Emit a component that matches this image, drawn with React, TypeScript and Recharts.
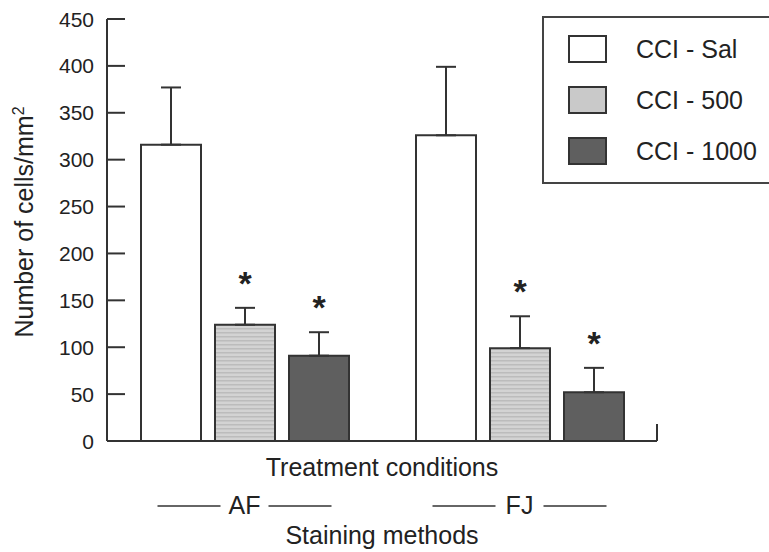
import React from 'react';
import { BarChart, Bar, XAxis, YAxis, ErrorBar, Legend, LabelList, ReferenceLine, Label } from 'recharts';

const methods = ['AF', 'FJ'];
const seriesNames = ['CCI - Sal', 'CCI - 500', 'CCI - 1000'];
const salValues = [316, 326];
const salErrors = [61, 73];
const dose500Values = [124, 99];
const dose500Errors = [18, 34];
const dose1000Values = [91, 52];
const dose1000Errors = [25, 26];
const significant500 = [true, true];
const significant1000 = [true, true];
const yTicks = [0, 50, 100, 150, 200, 250, 300, 350, 400, 450];
const legendSwatches = ['#ffffff', '#c9c9c9', '#5f5f5f'];

const data = methods.map((m, i) => ({
  method: m,
  sal: salValues[i],
  salErr: [0, salErrors[i]],
  d500: dose500Values[i],
  d500Err: [0, dose500Errors[i]],
  d1000: dose1000Values[i],
  d1000Err: [0, dose1000Errors[i]],
}));

const boundaries = methods.map((_, i) => i + 1);

const FONT = '"Liberation Sans", Arial, Helvetica, sans-serif';
const INK = '#222';
const LINE = '#333';

const YTick = (props: any) => {
  const { x, y, payload } = props;
  return (
    <g>
      <text x={x} y={y} dy="0.36em" textAnchor="end" fontSize={21} fill={INK} fontFamily={FONT}>
        {payload.value}
      </text>
      <line x1={x + 13} x2={x + 31} y1={y} y2={y} stroke={LINE} strokeWidth={2} />
    </g>
  );
};

const MethodTick = (props: any) => {
  const { x, y, payload } = props;
  return (
    <g>
      <line x1={x - 87} x2={x - 24} y1={y + 65} y2={y + 65} stroke={LINE} strokeWidth={1.5} />
      <text x={x} y={y + 73} textAnchor="middle" fontSize={25} fill={INK} fontFamily={FONT}>
        {payload.value}
      </text>
      <line x1={x + 24} x2={x + 87} y1={y + 65} y2={y + 65} stroke={LINE} strokeWidth={1.5} />
    </g>
  );
};

const YLabel = (props: any) => {
  const vb = props.viewBox || { x: 0, y: 19, width: 107, height: 422 };
  const cx = vb.x + 33;
  const cy = vb.y + vb.height / 2 - 8;
  return (
    <text
      x={cx}
      y={cy}
      transform={`rotate(-90, ${cx}, ${cy})`}
      textAnchor="middle"
      fontSize={25}
      fill={INK}
      fontFamily={FONT}
    >
      Number of cells/mm
      <tspan fontSize={16} dy={-9}>2</tspan>
    </text>
  );
};

const makeStar = (errors: number[], sig: boolean[]) => (props: any) => {
  const { x, y, width, height, value, index } = props;
  if (!sig[index] || !value) return null;
  const pxPerUnit = Number(height) / Number(value);
  const errTop = Number(y) - errors[index] * pxPerUnit;
  return (
    <text
      x={Number(x) + Number(width) / 2}
      y={errTop - 31 + 18}
      textAnchor="middle"
      fontSize={34}
      fontWeight="bold"
      fill={INK}
      fontFamily={FONT}
    >
      *
    </text>
  );
};

const renderLegend = () => (
  <div
    style={{
      width: 227,
      height: 168,
      boxSizing: 'border-box',
      borderTop: '2px solid #444',
      borderLeft: '2px solid #444',
      borderBottom: '2px solid #444',
      background: '#fff',
      position: 'relative',
      fontFamily: FONT,
    }}
  >
    {seriesNames.map((name, i) => (
      <div
        key={name}
        style={{ position: 'absolute', left: 24, top: 17 + i * 51, display: 'flex', alignItems: 'center', height: 28 }}
      >
        <div
          style={{
            width: 39,
            height: 28,
            boxSizing: 'border-box',
            border: '2px solid #333',
            background: legendSwatches[i],
          }}
        />
        <span style={{ marginLeft: 29, fontSize: 25, color: INK, whiteSpace: 'nowrap', lineHeight: '28px' }}>{name}</span>
      </div>
    ))}
  </div>
);

export default function App() {
  return (
    <div style={{ position: 'absolute', left: 0, top: 0, width: 769, height: 552, background: '#fff' }}>
      <BarChart
        width={769}
        height={552}
        data={data}
        margin={{ top: 19, right: 112, bottom: 0, left: 0 }}
        barCategoryGap={34}
        barGap={14}
        style={{ fontFamily: FONT }}
      >
        <defs>
          <pattern id="stripes500" width="6" height="4" patternUnits="userSpaceOnUse">
            <rect width="6" height="4" fill="#d3d3d3" />
            <rect y="0" width="6" height="1.5" fill="#bcbcbc" />
          </pattern>
        </defs>
        <XAxis
          dataKey="method"
          type="category"
          axisLine={{ stroke: LINE, strokeWidth: 2 }}
          tickLine={false}
          tickSize={0}
          tickMargin={0}
          height={111}
          interval={0}
          tick={<MethodTick />}
        >
          <Label value="Treatment conditions" position="insideTop" offset={17} fontSize={25} fill={INK} />
          <Label value="Staining methods" position="insideBottom" offset={8} fontSize={25} fill={INK} />
        </XAxis>
        <XAxis xAxisId="bounds" type="number" domain={[0, methods.length]} hide />
        <YAxis
          type="number"
          domain={[0, 450]}
          ticks={yTicks}
          interval={0}
          width={107}
          axisLine={{ stroke: LINE, strokeWidth: 2 }}
          tickLine={false}
          tickSize={0}
          tickMargin={13}
          tick={<YTick />}
          label={<YLabel />}
        />
        {boundaries.map((b) => (
          <ReferenceLine
            key={b}
            xAxisId="bounds"
            segment={[{ x: b, y: 0 }, { x: b, y: 18 }]}
            stroke={LINE}
            strokeWidth={2}
          />
        ))}
        <Bar dataKey="sal" name={seriesNames[0]} fill="#ffffff" stroke={LINE} strokeWidth={2} isAnimationActive={false}>
          <ErrorBar dataKey="salErr" width={10} stroke={LINE} strokeWidth={2} direction="y" />
        </Bar>
        <Bar dataKey="d500" name={seriesNames[1]} fill="url(#stripes500)" stroke={LINE} strokeWidth={2} isAnimationActive={false}>
          <ErrorBar dataKey="d500Err" width={10} stroke={LINE} strokeWidth={2} direction="y" />
          <LabelList dataKey="d500" content={makeStar(dose500Errors, significant500)} />
        </Bar>
        <Bar dataKey="d1000" name={seriesNames[2]} fill="#5f5f5f" stroke={LINE} strokeWidth={2} isAnimationActive={false}>
          <ErrorBar dataKey="d1000Err" width={10} stroke={LINE} strokeWidth={2} direction="y" />
          <LabelList dataKey="d1000" content={makeStar(dose1000Errors, significant1000)} />
        </Bar>
        <Legend
          layout="vertical"
          align="center"
          verticalAlign="middle"
          content={renderLegend}
          wrapperStyle={{ position: 'absolute', left: 542, top: 16, width: 227, height: 168 }}
        />
      </BarChart>
    </div>
  );
}
